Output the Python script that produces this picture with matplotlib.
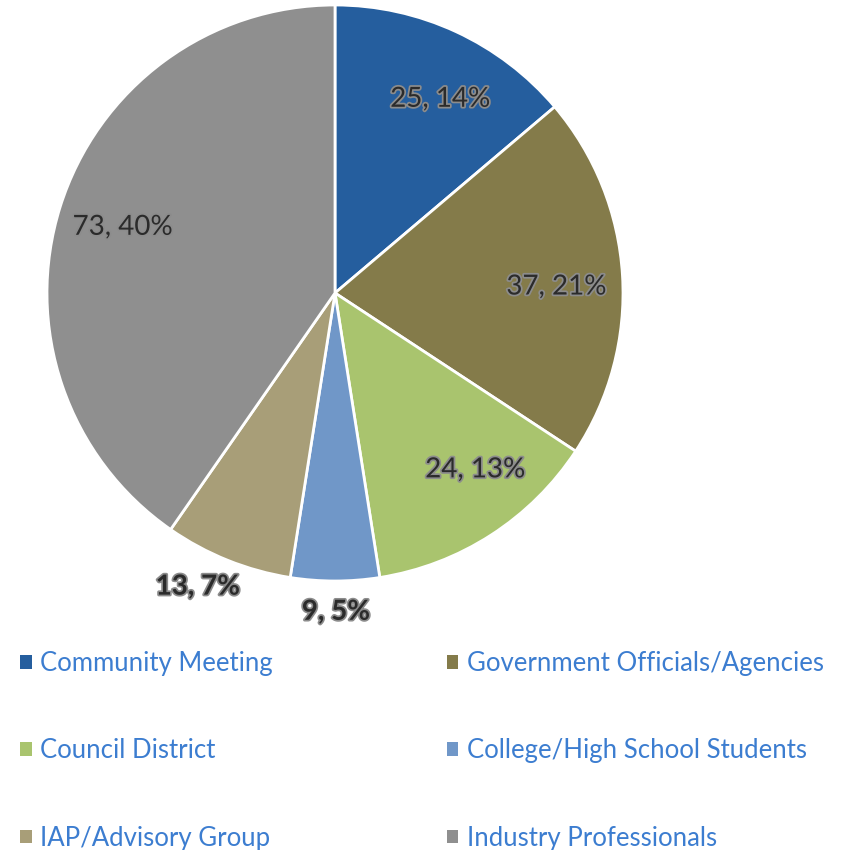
import numpy as np
import matplotlib
matplotlib.use("Agg")
import matplotlib.pyplot as plt
import matplotlib.patheffects as pe
from matplotlib.patches import Patch

plt.rcParams["font.family"] = ["Lato", "DejaVu Sans"]

categories = ["Community Meeting", "Government Officials/Agencies", "Council District",
              "College/High School Students", "IAP/Advisory Group", "Industry Professionals"]
counts = [25, 37, 24, 9, 13, 73]
percents = [14, 21, 13, 5, 7, 40]
colors = ["#255E9E", "#847B4A", "#A9C46E", "#7097C8", "#A89E78", "#8F8F8F"]

fig = plt.figure(figsize=(8.42, 8.5), dpi=100)
W, H = 842, 850
cx, cy, r = 335, 293, 288
ax = fig.add_axes([(cx - r) / W, 1 - (cy + r) / H, 2 * r / W, 2 * r / H])

wedges, _ = ax.pie(counts, colors=colors, startangle=90, counterclock=False,
                   wedgeprops=dict(edgecolor="white", linewidth=2))
ax.set_xlim(-1, 1)
ax.set_ylim(-1, 1)
ax.set_aspect("equal")

# label distance from centre and pixel nudges (x right, y up) to match excel placement
label_dist = [0.77, 0.77, 0.77, 1.10, 1.11, 0.78]
nudge = [(12, -7), (0, -7), (20, 10), (1, -2), (-18, 3), (2, -1)]
for w, c, p, d, (nx, ny) in zip(wedges, counts, percents, label_dist, nudge):
    ang = np.deg2rad((w.theta1 + w.theta2) / 2)
    x, y = d * np.cos(ang) + nx / r, d * np.sin(ang) + ny / r
    ax.text(x, y, f"{c}, {p}%", ha="center", va="center", fontsize=20,
            color="#2B2B2B", weight="bold" if d > 1 else "normal",
            path_effects=[pe.withStroke(linewidth=2.5, foreground="#8C8C8C")])

# legend, row-wise order
order = [0, 2, 4, 1, 3, 5]
handles = [Patch(facecolor=colors[i], edgecolor="none") for i in order]
labels = [categories[i] for i in order]
fig.legend(handles, labels, ncol=2, loc="upper left", bbox_to_anchor=(0.0115, 0.2465),
           frameon=False, fontsize=18.5, labelcolor="#3C7DD0", borderaxespad=0,
           handlelength=0.45, handleheight=0.45, handletextpad=0.33,
           labelspacing=2.43, columnspacing=6.77)

fig.savefig("out.png", dpi=100)
